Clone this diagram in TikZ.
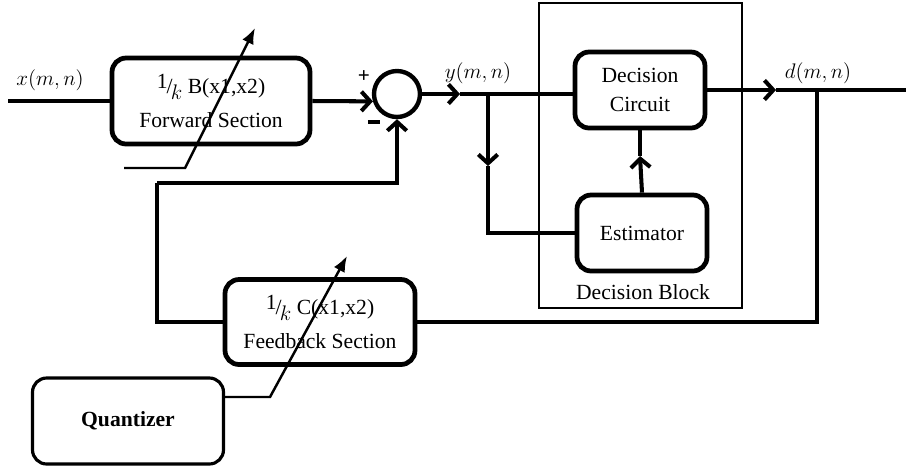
\documentclass[tikz,border=0pt]{standalone}
\usepackage{fontspec}
\setmainfont{Liberation Serif}
\usetikzlibrary{arrows.meta}

\begin{document}
\begin{tikzpicture}[x=0.02cm, y=-0.02cm,
      every node/.style={font=\fontsize{12.3}{17}\selectfont},
      blk/.style={draw, line width=2.7pt, rounded corners=8pt, align=center, inner sep=0pt},
      wire/.style={line width=2.3pt},
      arr/.style={wire, -{Straight Barb[length=5pt, width=11pt]}},
      adj/.style={line width=1.4pt, -{Latex[length=9pt, width=7pt]}}]
    \useasboundingbox (0,0) rectangle (906,468);
    % blocks
    \node[blk, minimum width=3.96cm, minimum height=1.72cm] (fwd) at (211,101)
        {\raisebox{3pt}{1}\kern-0.5pt/\kern-1pt\raisebox{-3pt}{$k$} B(x1,x2)\\[2pt]Forward Section};
    \node[draw, circle, line width=2.5pt, minimum size=0.92cm, inner sep=0pt] (sum) at (397,94) {};
    \node[blk, minimum width=2.6cm, minimum height=1.52cm] (dec) at (640,90) {Decision\\Circuit};
    \node[blk, minimum width=2.6cm, minimum height=1.52cm] (est) at (642,233) {Estimator};
    \node[blk, minimum width=3.8cm, minimum height=1.7cm] (fb) at (320,322)
        {\raisebox{3pt}{1}\kern-0.5pt/\kern-1pt\raisebox{-3pt}{$k$} C(x1,x2)\\[2pt]Feedback Section};
    \node[blk, line width=1.8pt, minimum width=3.82cm, minimum height=1.72cm] (quant) at (128,421)
        {\textbf{Quantizer}};
    \draw[line width=0.6pt] (539,3) rectangle (742,308);
    \node (blkname) at (643,292) {Decision Block};
    % labels
    \node (xin) at (50,80) {$x(m,n)$};
    \node (yout) at (478,73) {$y(m,n)$};
    \node (dout) at (818,73) {$d(m,n)$};
    \node[font=\bfseries\large] (plus) at (364,77) {+};
    \node[inner sep=0pt] (minus) at (374,122) {\rule{7pt}{2pt}};
    % points
    \coordinate (in) at (8,101);
    \coordinate (yarr) at (460,94);
    \coordinate (ysplit) at (488,94);
    \coordinate (ydown) at (488,166);
    \coordinate (earr) at (640,156);
    \coordinate (darr) at (776,90);
    \coordinate (dtap) at (817,90);
    \coordinate (out) at (906,90);
    \coordinate (fbk) at (157,183);
    \coordinate (fa) at (124,168);
    \coordinate (fk) at (185,168);
    \coordinate (ft) at (255,28);
    \coordinate (qk) at (270,397);
    \coordinate (qt) at (347,256);
    % connectors
    \draw[wire] (in) -- (fwd.west);
    \draw[arr] (fwd.east) -- (sum.197);
    \draw[arr] (sum.east) -- (yarr);
    \draw[wire] (yarr) -- (yarr -| dec.west);
    \draw[arr] (ysplit) -- (ydown);
    \draw[wire] (ydown) |- (est.west);
    \draw[arr] (est.north) -- (earr);
    \draw[wire] (earr) -- (dec.south);
    \draw[arr] (dec.east) -- (darr);
    \draw[wire] (darr) -- (out);
    \draw[wire] (dtap) |- (fb.east);
    \draw[wire] (fb.west) -| (fbk);
    \draw[arr] (fbk) -| (sum.south);
    \draw[adj] (fa) -- (fk) -- (ft);
    \draw[adj] (quant.east |- qk) -- (qk) -- (qt);
\end{tikzpicture}
\end{document}
